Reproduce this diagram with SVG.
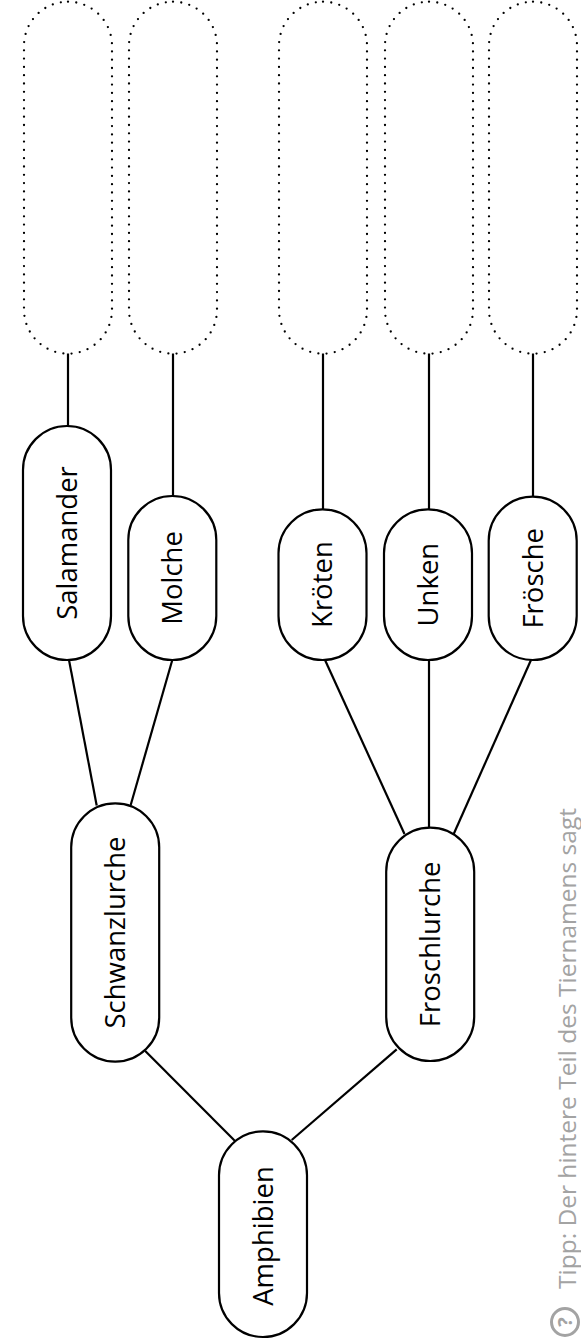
<svg xmlns="http://www.w3.org/2000/svg" width="581" height="1344" viewBox="0 0 581 1344">
<style>
.slot{fill:none;stroke:#000;stroke-width:2.3;stroke-dasharray:0 8.3;stroke-linecap:round}
.node{fill:#fff;stroke:#000;stroke-width:2.2}
.lbl{font-family:"Open Sans","Noto Sans",sans-serif;font-size:27.5px;fill:#000;text-anchor:middle}
.edge{stroke:#000;stroke-width:2.2;fill:none}
.tip{font-family:"Open Sans","Noto Sans",sans-serif;font-size:24.5px;fill:#a3a3a3}
</style>
<rect width="581" height="1344" fill="#fff"/>
<g id="connectors">
<line class="edge" x1="68" y1="353.5" x2="68" y2="426"/>
<line class="edge" x1="173" y1="353.5" x2="173" y2="496"/>
<line class="edge" x1="323" y1="353.5" x2="323" y2="509"/>
<line class="edge" x1="429" y1="353.5" x2="429" y2="509"/>
<line class="edge" x1="533" y1="353.5" x2="533" y2="497"/>
<line class="edge" x1="69" y1="660" x2="96.7" y2="805.5"/>
<line class="edge" x1="172.3" y1="660" x2="130.7" y2="805"/>
<line class="edge" x1="325" y1="660" x2="404.5" y2="834"/>
<line class="edge" x1="429" y1="660" x2="429" y2="828"/>
<line class="edge" x1="531" y1="660" x2="453.7" y2="834"/>
<line class="edge" x1="145" y1="1050.7" x2="235" y2="1141"/>
<line class="edge" x1="396.7" y1="1049.3" x2="291.7" y2="1140"/>
</g>
<g id="slot1"><rect class="slot" x="24" y="1.7" width="88" height="352" rx="44"/></g>
<g id="slot2"><rect class="slot" x="129" y="1.7" width="88" height="352" rx="44"/></g>
<g id="slot3"><rect class="slot" x="279" y="1.7" width="88" height="352" rx="44"/></g>
<g id="slot4"><rect class="slot" x="385" y="1.7" width="88" height="352" rx="44"/></g>
<g id="slot5"><rect class="slot" x="489" y="1.7" width="88" height="352" rx="44"/></g>
<g id="salamander"><rect class="node" x="23" y="426" width="88" height="234" rx="44"/><text class="lbl" transform="translate(67,543) rotate(-90)" y="9.8">Salamander</text></g>
<g id="molche"><rect class="node" x="128.3" y="496" width="88" height="164" rx="44"/><text class="lbl" transform="translate(172.3,578) rotate(-90)" y="9.8">Molche</text></g>
<g id="kroeten"><rect class="node" x="278.5" y="509.3" width="88" height="150.7" rx="44"/><text class="lbl" transform="translate(322.5,584.6) rotate(-90)" y="9.8">Kröten</text></g>
<g id="unken"><rect class="node" x="384" y="509.3" width="88" height="150.7" rx="44"/><text class="lbl" transform="translate(428,584.6) rotate(-90)" y="9.8">Unken</text></g>
<g id="froesche"><rect class="node" x="488.7" y="496.7" width="88" height="163.3" rx="44"/><text class="lbl" transform="translate(532.7,578.3) rotate(-90)" y="9.8">Frösche</text></g>
<g id="schwanzlurche"><rect class="node" x="71.2" y="803.3" width="88" height="258.4" rx="44"/><text class="lbl" transform="translate(115.2,932.5) rotate(-90)" y="9.8">Schwanzlurche</text></g>
<g id="froschlurche"><rect class="node" x="386.2" y="827.7" width="88" height="233.3" rx="44"/><text class="lbl" transform="translate(430.2,944.3) rotate(-90)" y="9.8">Froschlurche</text></g>
<g id="amphibien"><rect class="node" x="219" y="1131.3" width="88" height="205.7" rx="44"/><text class="lbl" transform="translate(263,1236) rotate(-90)" y="9.8">Amphibien</text></g>
<g id="tip">
<circle cx="565" cy="1322" r="13.5" fill="none" stroke="#a3a3a3" stroke-width="3"/>
<text transform="translate(565,1322) rotate(-90)" y="7" text-anchor="middle" style="font-family:'Open Sans',sans-serif;font-size:20px;font-weight:bold;fill:#a3a3a3">?</text>
<text class="tip" transform="translate(576,1289) rotate(-90)">Tipp: Der hintere Teil des Tiernamens sagt</text>
</g>
</svg>
